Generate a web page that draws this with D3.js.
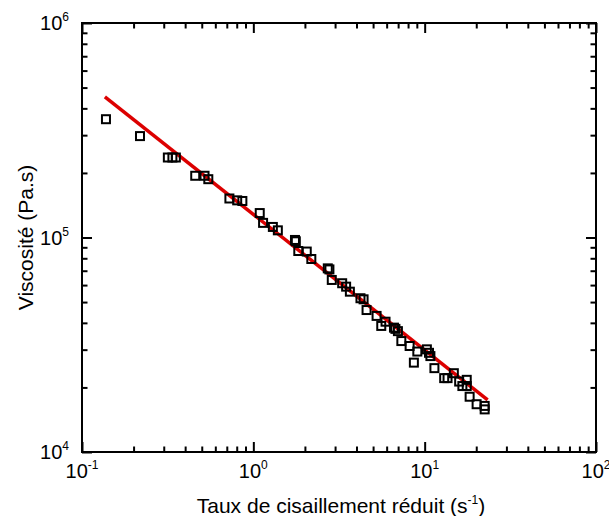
<!DOCTYPE html>
<html>
<head>
<meta charset="utf-8">
<script src="https://cdn.jsdelivr.net/npm/d3@7/dist/d3.min.js"></script>
<style>
  body { margin: 0; background: #fff; }
  text { font-family: "Liberation Sans", Arial, Helvetica, sans-serif; fill: #000; }
</style>
</head>
<body>
<div id="chart-area"></div>
<script>
// measured points (reduced shear rate, viscosity)
var shearRate = [0.138, 0.218, 0.317, 0.337, 0.353, 0.458, 0.519, 0.546, 0.725, 0.805,
  0.863, 1.09, 1.14, 1.30, 1.39, 1.75, 1.77, 1.83, 2.05, 2.18,
  2.72, 2.78, 2.87, 3.30, 3.48, 3.66, 4.22, 4.40, 4.58, 5.24,
  5.91, 5.58, 6.62, 6.75, 6.98, 7.31, 8.17, 8.65, 9.06, 10.3,
  10.6, 10.8, 11.4, 13.0, 13.6, 14.8, 15.9, 16.6, 17.6, 17.6,
  18.3, 20.1, 22.4, 22.4];
var viscosity = [3.56e5, 2.97e5, 2.36e5, 2.36e5, 2.36e5, 1.94e5, 1.94e5, 1.87e5, 1.52e5, 1.49e5,
  1.48e5, 1.30e5, 1.17e5, 1.12e5, 1.08e5, 9.74e4, 9.6e4, 8.65e4, 8.6e4, 7.94e4,
  7.18e4, 7.1e4, 6.34e4, 6.12e4, 5.90e4, 5.59e4, 5.21e4, 5.15e4, 4.59e4, 4.31e4,
  4.05e4, 3.87e4, 3.80e4, 3.75e4, 3.66e4, 3.29e4, 3.12e4, 2.61e4, 2.94e4, 3.01e4,
  2.90e4, 2.80e4, 2.46e4, 2.21e4, 2.21e4, 2.33e4, 2.13e4, 2.03e4, 2.17e4, 2.03e4,
  1.81e4, 1.67e4, 1.64e4, 1.58e4];

// fitted power law line, end points
var fitRate = [0.136, 23.3];
var fitVisc = [4.53e5, 1.75e4];

// tick labels
var xTicks = [0.1, 1, 10, 100];
var xTickExp = ['-1', '0', '1', '2'];
var yTicks = [1e4, 1e5, 1e6];
var yTickExp = ['4', '5', '6'];

var width = 609, height = 516;
var margin = {top: 23, right: 13, bottom: 64, left: 82};
var w = width - margin.left - margin.right;
var h = height - margin.top - margin.bottom;

var svg = d3.select('#chart-area').append('svg')
  .attr('width', width)
  .attr('height', height);

var g = svg.append('g')
  .attr('transform', 'translate(' + margin.left + ',' + margin.top + ')');

var x = d3.scaleLog().domain([0.1, 100]).range([0, w]);
var y = d3.scaleLog().domain([1e4, 1e6]).range([h, 0]);

// minor tick positions 2..9 in each decade
var xMinor = [];
[0.1, 1, 10].forEach(d => { for (var k = 2; k < 10; k++) xMinor.push(d * k); });
var yMinor = [];
[1e4, 1e5].forEach(d => { for (var k = 2; k < 10; k++) yMinor.push(d * k); });

function drawAxis(axisFn, scale, values, size, transform) {
  var a = g.append('g')
    .attr('transform', transform)
    .call(axisFn(scale).tickValues(values).tickSize(-size).tickFormat(''));
  a.select('.domain').remove();
  a.selectAll('line').attr('stroke', '#000').attr('stroke-width', 2);
}

// ticks on all four sides, pointing inward
drawAxis(d3.axisBottom, x, xMinor, 5.5, 'translate(0,' + h + ')');
drawAxis(d3.axisBottom, x, xTicks, 10, 'translate(0,' + h + ')');
drawAxis(d3.axisTop, x, xMinor, 5.5, 'translate(0,0)');
drawAxis(d3.axisTop, x, xTicks, 10, 'translate(0,0)');
drawAxis(d3.axisLeft, y, yMinor, 5.5, 'translate(0,0)');
drawAxis(d3.axisLeft, y, yTicks, 10, 'translate(0,0)');
drawAxis(d3.axisRight, y, yMinor, 5.5, 'translate(' + w + ',0)');
drawAxis(d3.axisRight, y, yTicks, 10, 'translate(' + w + ',0)');

// frame
g.append('rect')
  .attr('width', w)
  .attr('height', h)
  .attr('fill', 'none')
  .attr('stroke', '#000')
  .attr('stroke-width', 2);

// tick labels with superscripts
xTicks.forEach((v, i) => {
  var t = g.append('text')
    .attr('x', x(v))
    .attr('y', h + 26)
    .attr('text-anchor', 'middle')
    .style('font-size', '20px');
  t.append('tspan').text('10');
  t.append('tspan').attr('dy', -9).style('font-size', '12px').text(xTickExp[i]);
});
yTicks.forEach((v, i) => {
  var t = g.append('text')
    .attr('x', -13)
    .attr('y', y(v) + 7)
    .attr('text-anchor', 'end')
    .style('font-size', '20px');
  t.append('tspan').text('10');
  t.append('tspan').attr('dy', -9).style('font-size', '12px').text(yTickExp[i]);
});

// axis titles
var xt = svg.append('text')
  .attr('x', margin.left + w / 2 + 2)
  .attr('y', 513)
  .attr('text-anchor', 'middle')
  .style('font-size', '21px');
xt.append('tspan').text('Taux de cisaillement réduit (s');
xt.append('tspan').attr('dy', -9).style('font-size', '12px').text('-1');
xt.append('tspan').attr('dy', 9).style('font-size', '21px').text(')');

svg.append('text')
  .attr('transform', 'translate(33,' + (margin.top + h / 2) + ') rotate(-90)')
  .attr('text-anchor', 'middle')
  .style('font-size', '21px')
  .text('Viscosité (Pa.s)');

// fit line
var fitData = fitRate.map((r, i) => ({r: r, v: fitVisc[i]}));
var line = d3.line()
  .x(d => x(d.r))
  .y(d => y(d.v));
g.append('path')
  .attr('d', line(fitData))
  .attr('fill', 'none')
  .attr('stroke', '#dc0000')
  .attr('stroke-width', 3.5);

// data squares
var pts = shearRate.map((r, i) => ({r: r, v: viscosity[i]}));
g.selectAll('rect.pt')
  .data(pts)
  .enter().append('rect')
  .attr('class', 'pt')
  .attr('x', d => x(d.r) - 4)
  .attr('y', d => y(d.v) - 4)
  .attr('width', 8)
  .attr('height', 8)
  .attr('fill', 'none')
  .attr('stroke', '#000')
  .attr('stroke-width', 2);
</script>
</body>
</html>
